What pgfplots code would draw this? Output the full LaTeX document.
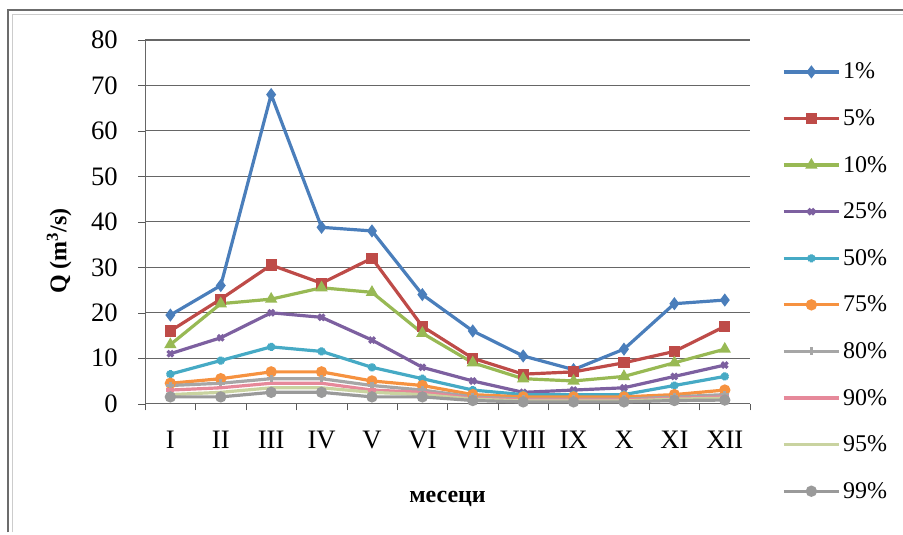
\documentclass[border=0pt]{standalone}
\usepackage{pgfplots}
\pgfplotsset{compat=1.18}
\usepackage{fontspec}
\setmainfont{Liberation Serif}
\begin{document}
\begin{tikzpicture}
\definecolor{c1}{HTML}{4A7EBB}
\definecolor{c2}{HTML}{BE4B48}
\definecolor{c3}{HTML}{98B954}
\definecolor{c4}{HTML}{7D60A0}
\definecolor{c5}{HTML}{46AAC5}
\definecolor{c6}{HTML}{F69240}
\definecolor{c7}{HTML}{A6A6A6}
\definecolor{c8}{HTML}{E6899A}
\definecolor{c9}{HTML}{C9D3A0}
\definecolor{c10}{HTML}{9A9A9A}
\begin{axis}[
  scale only axis,
  width=454pt, height=273pt,
  xmin=-0.5, xmax=11.5,
  ymin=0, ymax=80,
  xtick={0,...,11},
  xticklabels={I,II,III,IV,V,VI,VII,VIII,IX,X,XI,XII},
  major x tick style={draw=none},
  minor xtick={-0.5,0.5,...,11.5},
  minor tick length=5pt,
  ytick={0,10,...,80},
  tick align=outside,
  major tick length=5pt,
  tick style={gray!70!black},
  ymajorgrids=true,
  grid style={gray!80!black, line width=0.8pt},
  axis x line*=bottom,
  axis y line*=left,
  axis line style={gray!80!black, line width=0.8pt},
  /pgf/number format/assume math mode=true,
  tick label style={font=\rmfamily\fontsize{20}{23}\selectfont},
  xticklabel style={yshift=-12pt},
  yticklabel style={xshift=-12pt},
  xlabel={\textbf{месеци}},
  ylabel={\textbf{Q (m\textsuperscript{3}/s)}},
  label style={font=\rmfamily\fontsize{18}{21}\selectfont},
  xlabel style={yshift=-25pt},
  ylabel style={yshift=8pt, xshift=-22pt},
  clip=false,
  legend style={at={(1.053,0.945)}, anchor=north west, draw=none, fill=none,
    font=\rmfamily\fontsize{18}{21}\selectfont, row sep=17.5pt,
    legend cell align=left, inner sep=0pt},
  every axis plot/.append style={line width=2.4pt, mark size=3pt, mark options={solid}},
  legend image code/.code={
    \draw[#1] (0cm,0cm) -- (1.45cm,0cm);
    \draw[#1, mark repeat=2, mark phase=2] plot coordinates {(0cm,0cm) (0.725cm,0cm) (1.45cm,0cm)};
  },
]
\addplot[c1, mark=diamond*] coordinates {(0,19.5) (1,26) (2,68) (3,38.8) (4,38) (5,24) (6,16) (7,10.5) (8,7.5) (9,12) (10,22) (11,22.8)};
\addplot[c2, mark=square*] coordinates {(0,16) (1,23) (2,30.5) (3,26.5) (4,32) (5,17) (6,10) (7,6.5) (8,7) (9,9) (10,11.5) (11,17)};
\addplot[c3, mark=triangle*] coordinates {(0,13) (1,22) (2,23) (3,25.5) (4,24.5) (5,15.5) (6,9) (7,5.5) (8,5) (9,6) (10,9) (11,12)};
\addplot[c4, mark=x] coordinates {(0,11) (1,14.5) (2,20) (3,19) (4,14) (5,8) (6,5) (7,2.5) (8,3) (9,3.5) (10,6) (11,8.5)};
\addplot[c5, mark=asterisk] coordinates {(0,6.5) (1,9.5) (2,12.5) (3,11.5) (4,8) (5,5.5) (6,3) (7,2) (8,2) (9,2) (10,4) (11,6)};
\addplot[c6, mark=*] coordinates {(0,4.5) (1,5.5) (2,7) (3,7) (4,5) (5,4) (6,2) (7,1.5) (8,1.5) (9,1.5) (10,2) (11,3)};
\addplot[c7, mark=+] coordinates {(0,4) (1,4.5) (2,5.5) (3,5.5) (4,4) (5,3) (6,1.5) (7,1) (8,1) (9,1) (10,1.5) (11,2)};
\addplot[c8, mark=-] coordinates {(0,3) (1,3.5) (2,4.5) (3,4.5) (4,3) (5,2.5) (6,1.2) (7,0.8) (8,0.8) (9,0.8) (10,1.2) (11,1.5)};
\addplot[c9, mark=none] coordinates {(0,2) (1,2.5) (2,3.5) (3,3.5) (4,2.5) (5,2) (6,1) (7,0.6) (8,0.6) (9,0.6) (10,1) (11,1.2)};
\addplot[c10, mark=*] coordinates {(0,1.5) (1,1.5) (2,2.5) (3,2.5) (4,1.5) (5,1.5) (6,0.7) (7,0.4) (8,0.4) (9,0.4) (10,0.7) (11,0.8)};
\legend{1\%,5\%,10\%,25\%,50\%,75\%,80\%,90\%,95\%,99\%}
\coordinate (fa) at (rel axis cs:-0.226,-0.354);
\coordinate (fb) at (rel axis cs:-0.226,1.082);
\coordinate (fc) at (rel axis cs:1.26,1.082);
\coordinate (ga) at (rel axis cs:-0.219,-0.354);
\coordinate (gb) at (rel axis cs:-0.219,1.071);
\coordinate (gc) at (rel axis cs:1.26,1.071);
\coordinate (bbsw) at (rel axis cs:-0.24,-0.36);
\coordinate (bbne) at (rel axis cs:1.253,1.11);
\end{axis}
\draw[gray!85!black, line width=1.5pt] (fa) -- (fb) -- (fc);
\draw[gray!40, line width=0.8pt] (ga) -- (gb) -- (gc);
\pgfresetboundingbox
\path (bbsw) rectangle (bbne);
\end{tikzpicture}
\end{document}
